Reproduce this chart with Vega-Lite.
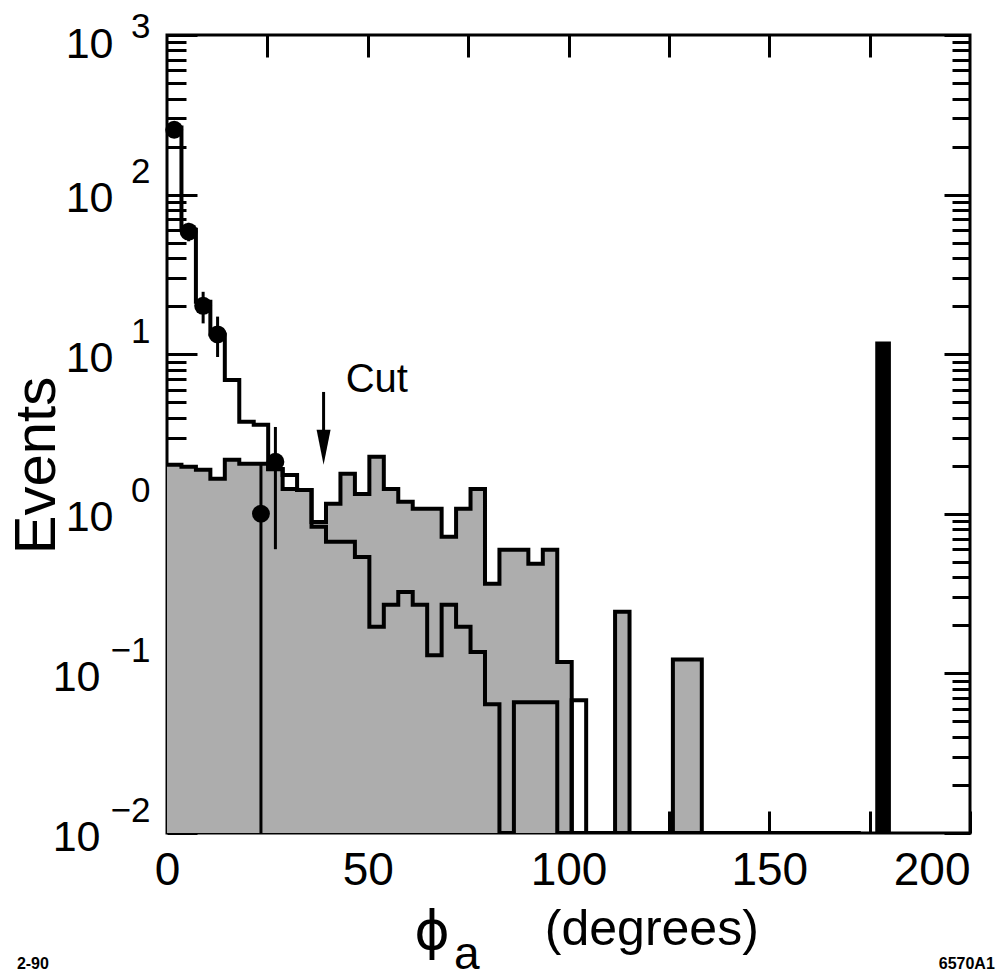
{
  "$schema": "https://vega.github.io/schema/vega-lite/v6.json",
  "width": 803,
  "height": 798,
  "autosize": {"type": "none"},
  "padding": {"left": 167, "top": 35, "right": 33, "bottom": 145},
  "background": "white",
  "config": {"view": {"stroke": "black", "strokeWidth": 3}, "font": "Liberation Sans"},
  "datasets": {
    "shaded": [
      {"x": 0, "v": 2.03}, {"x": 3.6, "v": 1.97}, {"x": 7.2, "v": 1.89}, {"x": 10.8, "v": 1.66},
      {"x": 14.4, "v": 2.18}, {"x": 18, "v": 2.06}, {"x": 21.6, "v": 2.06}, {"x": 25.2, "v": 1.9},
      {"x": 28.8, "v": 1.43}, {"x": 32.4, "v": 1.41}, {"x": 36, "v": 0.89}, {"x": 39.6, "v": 1.155},
      {"x": 43.2, "v": 1.78}, {"x": 46.8, "v": 1.33}, {"x": 50.4, "v": 2.28}, {"x": 54, "v": 1.43},
      {"x": 57.6, "v": 1.19}, {"x": 61.2, "v": 1.075}, {"x": 64.8, "v": 1.075}, {"x": 68.4, "v": 0.718},
      {"x": 72, "v": 1.075}, {"x": 75.6, "v": 1.43}, {"x": 79.2, "v": 0.364}, {"x": 82.8, "v": 0.595},
      {"x": 86.4, "v": 0.595}, {"x": 90, "v": 0.486}, {"x": 93.6, "v": 0.595}, {"x": 97.2, "v": 0.118},
      {"x": 100.8, "v": 0.01}, {"x": 104.4, "v": 0.01}, {"x": 108, "v": 0.01}, {"x": 111.6, "v": 0.243},
      {"x": 115.2, "v": 0.01}, {"x": 118.8, "v": 0.01}, {"x": 122.4, "v": 0.01}, {"x": 126, "v": 0.122},
      {"x": 129.6, "v": 0.122}, {"x": 133.2, "v": 0.01}, {"x": 136.8, "v": 0.01}
    ],
    "open": [
      {"x": 0, "v": 263}, {"x": 3.6, "v": 60.3}, {"x": 7.2, "v": 21.3}, {"x": 10.8, "v": 13.3},
      {"x": 14.4, "v": 6.9}, {"x": 18, "v": 3.78}, {"x": 21.6, "v": 3.61}, {"x": 25.2, "v": 1.91},
      {"x": 28.8, "v": 1.75}, {"x": 32.4, "v": 1.41}, {"x": 36, "v": 0.83}, {"x": 39.6, "v": 0.668},
      {"x": 43.2, "v": 0.668}, {"x": 46.8, "v": 0.537}, {"x": 50.4, "v": 0.196}, {"x": 54, "v": 0.269},
      {"x": 57.6, "v": 0.324}, {"x": 61.2, "v": 0.269}, {"x": 64.8, "v": 0.13}, {"x": 68.4, "v": 0.269},
      {"x": 72, "v": 0.196}, {"x": 75.6, "v": 0.136}, {"x": 79.2, "v": 0.064}, {"x": 82.8, "v": 0.01},
      {"x": 86.4, "v": 0.066}, {"x": 90, "v": 0.066}, {"x": 93.6, "v": 0.066}, {"x": 97.2, "v": 0.01},
      {"x": 100.8, "v": 0.068}, {"x": 104.4, "v": 0.01}, {"x": 172.8, "v": 0.01}
    ],
    "points": [
      {"x": 1.8, "v": 255, "lo": 240, "hi": 271},
      {"x": 5.4, "v": 58.6, "lo": 51, "hi": 66.5},
      {"x": 9.0, "v": 20.1, "lo": 15.6, "hi": 24.6},
      {"x": 12.6, "v": 13.3, "lo": 9.6, "hi": 17.2},
      {"x": 23.4, "v": 1.0, "lo": 0.01, "hi": 2.03},
      {"x": 27.0, "v": 2.12, "lo": 0.6, "hi": 3.5}
    ],
    "blackbar": [{"x": 176.4, "x2": 180.3, "v": 12}],
    "cut": [{"x": 39, "top": 5.8, "bottom": 2.8, "head": 2.61, "tx": 44.5, "ty": 6.9, "label": "Cut"}],
    "phi": [{"x": 66, "y": 0.00236, "label": "ϕ"}],
    "sub": [{"x": 74.7, "y": 0.00172, "label": "a"}],
    "deg": [{"x": 94.1, "y": 0.00247, "label": "(degrees)"}],
    "notes": [
      {"x": -33.4, "y": 0.00151, "label": "2-90"},
      {"x": 199.2, "y": 0.00151, "label": "6570A1"}
    ]
  },
  "layer": [
    {
      "data": {"name": "shaded"},
      "mark": {"type": "area", "interpolate": "step-after", "fill": "#adadad", "clip": true},
      "encoding": {
        "x": {"field": "x", "type": "quantitative", "scale": {"domain": [0, 200], "nice": false},
          "axis": {"orient": "bottom", "values": [0, 25, 50, 75, 100, 125, 150, 175, 200],
            "labelExpr": "datum.value % 50 == 0 ? datum.label : ''",
            "labelAlign": {"condition": {"test": "datum.value == 200", "value": "right"}, "value": "center"},
            "domain": false, "grid": false, "tickSize": -22, "tickWidth": 3, "tickColor": "black",
            "labelFont": "Liberation Sans Narrow, Liberation Sans", "labelFontSize": 46, "labelColor": "black",
            "labelPadding": 37, "labelFlush": false, "labelOverlap": false, "title": null}},
        "y": {"field": "v", "type": "quantitative", "scale": {"type": "log", "domain": [0.01, 1000], "nice": false},
          "axis": {"orient": "left",
            "values": [0.01, 0.02, 0.03, 0.04, 0.05, 0.06, 0.07, 0.08, 0.09, 0.1, 0.2, 0.3, 0.4, 0.5, 0.6, 0.7, 0.8, 0.9, 1, 2, 3, 4, 5, 6, 7, 8, 9, 10, 20, 30, 40, 50, 60, 70, 80, 90, 100, 200, 300, 400, 500, 600, 700, 800, 900, 1000],
            "tickSize": {"condition": {"test": "indexof([0.01,0.1,1,10,100,1000], datum.value) >= 0", "value": -30}, "value": -19},
            "tickWidth": 3, "tickColor": "black", "domain": false, "grid": false,
            "labelExpr": "indexof([0.01,0.1,1,10,100,1000], datum.value) >= 0 ? '10' : ''",
            "labelFont": "Liberation Sans Narrow, Liberation Sans", "labelFontSize": 43, "labelColor": "black",
            "labelPadding": {"condition": {"test": "datum.value < 1", "value": 97}, "value": 84},
            "labelBaseline": "middle",
            "labelOffset": {"condition": {"test": "datum.value == 1000", "value": 9}, "value": 4},
            "labelOverlap": false, "labelFlush": false,
            "title": "Events", "titleFont": "Liberation Sans", "titleFontSize": 58, "titleFontWeight": "normal",
            "titleColor": "black", "titleX": -101, "titleY": 430}},
        "y2": {"datum": 0.01}
      }
    },
    {
      "data": {"name": "shaded"},
      "mark": {"type": "line", "interpolate": "step-after", "stroke": "black", "strokeWidth": 4, "clip": true},
      "encoding": {
        "x": {"field": "x", "type": "quantitative",
          "axis": {"orient": "top", "values": [25, 50, 75, 100, 125, 150, 175], "labels": false,
            "domain": false, "grid": false, "tickSize": -22, "tickWidth": 3, "tickColor": "black", "title": null}},
        "y": {"field": "v", "type": "quantitative",
          "axis": {"orient": "left", "values": [0.01, 0.1, 1, 10, 100, 1000], "ticks": false, "domain": false, "grid": false,
            "labelExpr": "format(round(log(datum.value)/LN10),'d')",
            "labelFont": "Liberation Sans Narrow, Liberation Sans", "labelFontSize": 35, "labelColor": "black",
            "labelPadding": 17,
            "labelOffset": {"condition": {"test": "datum.value == 1000", "value": -9}, "value": -23},
            "labelOverlap": false, "labelFlush": false, "title": null}}
      }
    },
    {
      "data": {"name": "open"},
      "mark": {"type": "line", "interpolate": "step-after", "stroke": "black", "strokeWidth": 4, "clip": true},
      "encoding": {
        "x": {"field": "x", "type": "quantitative", "axis": null},
        "y": {"field": "v", "type": "quantitative",
          "axis": {"orient": "right",
            "values": [0.01, 0.02, 0.03, 0.04, 0.05, 0.06, 0.07, 0.08, 0.09, 0.1, 0.2, 0.3, 0.4, 0.5, 0.6, 0.7, 0.8, 0.9, 1, 2, 3, 4, 5, 6, 7, 8, 9, 10, 20, 30, 40, 50, 60, 70, 80, 90, 100, 200, 300, 400, 500, 600, 700, 800, 900, 1000],
            "tickSize": {"condition": {"test": "indexof([0.01,0.1,1,10,100,1000], datum.value) >= 0", "value": -26}, "value": -18},
            "tickWidth": 3, "tickColor": "black", "labels": false, "domain": false, "grid": false, "title": null}}
      }
    },
    {
      "data": {"name": "blackbar"},
      "mark": {"type": "rect", "fill": "black"},
      "encoding": {
        "x": {"field": "x", "type": "quantitative", "axis": null},
        "x2": {"field": "x2"},
        "y": {"field": "v", "type": "quantitative", "axis": null},
        "y2": {"datum": 0.01}
      }
    },
    {
      "data": {"name": "points"},
      "mark": {"type": "rule", "stroke": "black", "strokeWidth": 3, "clip": true},
      "encoding": {
        "x": {"field": "x", "type": "quantitative", "axis": null},
        "y": {"field": "lo", "type": "quantitative", "axis": null},
        "y2": {"field": "hi"}
      }
    },
    {
      "data": {"name": "points"},
      "mark": {"type": "point", "shape": "circle", "filled": true, "fill": "black", "opacity": 1, "size": 320},
      "encoding": {
        "x": {"field": "x", "type": "quantitative", "axis": null},
        "y": {"field": "v", "type": "quantitative", "axis": null}
      }
    },
    {
      "data": {"name": "cut"},
      "mark": {"type": "rule", "stroke": "black", "strokeWidth": 3},
      "encoding": {
        "x": {"field": "x", "type": "quantitative", "axis": null},
        "y": {"field": "top", "type": "quantitative", "axis": null},
        "y2": {"field": "bottom"}
      }
    },
    {
      "data": {"name": "cut"},
      "mark": {"type": "point", "shape": "M -0.4 -1 L 0.4 -1 L 0 1 Z", "filled": true, "fill": "black", "opacity": 1, "size": 1225},
      "encoding": {
        "x": {"field": "x", "type": "quantitative", "axis": null},
        "y": {"field": "head", "type": "quantitative", "axis": null}
      }
    },
    {
      "data": {"name": "cut"},
      "mark": {"type": "text", "align": "left", "baseline": "middle", "font": "Liberation Sans", "fontSize": 40, "fill": "black"},
      "encoding": {
        "x": {"field": "tx", "type": "quantitative", "axis": null},
        "y": {"field": "ty", "type": "quantitative", "axis": null},
        "text": {"field": "label"}
      }
    },
    {
      "data": {"name": "phi"},
      "mark": {"type": "text", "align": "center", "baseline": "middle", "font": "DejaVu Sans", "fontSize": 54, "fill": "black"},
      "encoding": {
        "x": {"field": "x", "type": "quantitative", "axis": null},
        "y": {"field": "y", "type": "quantitative", "axis": null},
        "text": {"field": "label"}
      }
    },
    {
      "data": {"name": "sub"},
      "mark": {"type": "text", "align": "center", "baseline": "middle", "font": "Liberation Sans", "fontSize": 46, "fill": "black"},
      "encoding": {
        "x": {"field": "x", "type": "quantitative", "axis": null},
        "y": {"field": "y", "type": "quantitative", "axis": null},
        "text": {"field": "label"}
      }
    },
    {
      "data": {"name": "deg"},
      "mark": {"type": "text", "align": "left", "baseline": "middle", "font": "Liberation Sans", "fontSize": 50, "fill": "black"},
      "encoding": {
        "x": {"field": "x", "type": "quantitative", "axis": null},
        "y": {"field": "y", "type": "quantitative", "axis": null},
        "text": {"field": "label"}
      }
    },
    {
      "data": {"name": "notes"},
      "mark": {"type": "text", "align": "center", "baseline": "middle", "font": "Liberation Sans Narrow, Liberation Sans", "fontSize": 16, "fontWeight": "bold", "fill": "black"},
      "encoding": {
        "x": {"field": "x", "type": "quantitative", "axis": null},
        "y": {"field": "y", "type": "quantitative", "axis": null},
        "text": {"field": "label"}
      }
    }
  ],
  "resolve": {"axis": {"x": "independent", "y": "independent"}}
}
